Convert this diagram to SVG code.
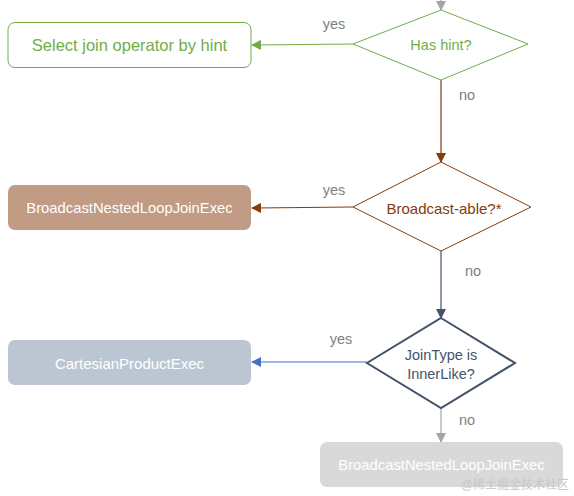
<svg xmlns="http://www.w3.org/2000/svg" width="574" height="496" viewBox="0 0 574 496">
<style>
text{font-family:"Liberation Sans","Noto Sans CJK SC",sans-serif;font-size:14.5px;text-anchor:middle;dominant-baseline:central}
.lbl{fill:#7f7f7f;font-size:14.5px}
.w{fill:#ffffff}
</style>
<defs>
<marker id="aG" viewBox="0 0 10 10" refX="9" refY="5" markerWidth="10" markerHeight="10" markerUnits="userSpaceOnUse" orient="auto"><path d="M0,0L10,5L0,10z" fill="#70ad47"/></marker>
<marker id="aB" viewBox="0 0 10 10" refX="9" refY="5" markerWidth="10" markerHeight="10" markerUnits="userSpaceOnUse" orient="auto"><path d="M0,0L10,5L0,10z" fill="#843c0c"/></marker>
<marker id="aS" viewBox="0 0 10 10" refX="9" refY="5" markerWidth="10" markerHeight="10" markerUnits="userSpaceOnUse" orient="auto"><path d="M0,0L10,5L0,10z" fill="#44546a"/></marker>
<marker id="aBl" viewBox="0 0 10 10" refX="9" refY="5" markerWidth="10" markerHeight="10" markerUnits="userSpaceOnUse" orient="auto"><path d="M0,0L10,5L0,10z" fill="#4472c4"/></marker>
<marker id="aGr" viewBox="0 0 10 10" refX="9" refY="5" markerWidth="10" markerHeight="10" markerUnits="userSpaceOnUse" orient="auto"><path d="M0,0L10,5L0,10z" fill="#a5a5a5"/></marker>
</defs>
<rect width="574" height="496" fill="#ffffff"/>
<g id="connectors" fill="none" stroke-width="1.2">
<line x1="441" y1="-2" x2="441" y2="10" stroke="#a5a5a5" marker-end="url(#aGr)"/>
<line x1="353" y1="44" x2="252" y2="45" stroke="#70ad47" marker-end="url(#aG)"/>
<line x1="441" y1="80" x2="441" y2="162" stroke="#843c0c" marker-end="url(#aB)"/>
<line x1="353" y1="207" x2="252" y2="208" stroke="#843c0c" marker-end="url(#aB)"/>
<line x1="441" y1="250" x2="441" y2="318" stroke="#44546a" marker-end="url(#aS)"/>
<line x1="367" y1="362" x2="252" y2="362" stroke="#4472c4" marker-end="url(#aBl)"/>
<line x1="441" y1="408" x2="441" y2="442" stroke="#a5a5a5" marker-end="url(#aGr)"/>
<text class="lbl" x="334" y="24">yes</text>
<text class="lbl" x="467" y="95">no</text>
<text class="lbl" x="334" y="190">yes</text>
<text class="lbl" x="473" y="271">no</text>
<text class="lbl" x="341" y="339">yes</text>
<text class="lbl" x="467" y="420">no</text>
</g>
<g id="hasHint">
<polygon points="441,10 528,44 441,80 353,44" fill="#ffffff" stroke="#70ad47" stroke-width="1"/>
<text x="441" y="45" fill="#70ad47">Has hint?</text>
</g>
<g id="selectByHint">
<rect x="8" y="22.5" width="243" height="45" rx="7" fill="#ffffff" stroke="#70ad47" stroke-width="1"/>
<text x="129.5" y="45" fill="#70ad47" style="font-size:16.5px">Select join operator by hint</text>
</g>
<g id="broadcastable">
<polygon points="441,162 531,207 441,251 353,207" fill="#ffffff" stroke="#843c0c" stroke-width="1"/>
<text x="444" y="208" fill="#843c0c" style="font-size:15px">Broadcast-able?*</text>
</g>
<g id="bnlj1">
<rect x="8" y="185" width="243" height="45" rx="7" fill="#c19b84"/>
<text class="w" x="129.5" y="208" style="font-size:14.8px">BroadcastNestedLoopJoinExec</text>
</g>
<g id="innerLike">
<polygon points="441,318 515,363 441,408 367,363" fill="#ffffff" stroke="#44546a" stroke-width="2"/>
<text x="441" y="355" fill="#44546a">JoinType is</text>
<text x="441" y="374" fill="#44546a">InnerLike?</text>
</g>
<g id="cartesian">
<rect x="8" y="340" width="243" height="45" rx="7" fill="#bcc6d3"/>
<text class="w" x="129.5" y="363" style="font-size:15px">CartesianProductExec</text>
</g>
<g id="bnlj2">
<rect x="320" y="442" width="243" height="45" rx="7" fill="#d9d9d9"/>
<text class="w" x="441.5" y="465" style="font-size:14.8px">BroadcastNestedLoopJoinExec</text>
</g>
<text x="515" y="485" fill="#c8c8c8" style="font-size:12px">@稀土掘金技术社区</text>
</svg>
